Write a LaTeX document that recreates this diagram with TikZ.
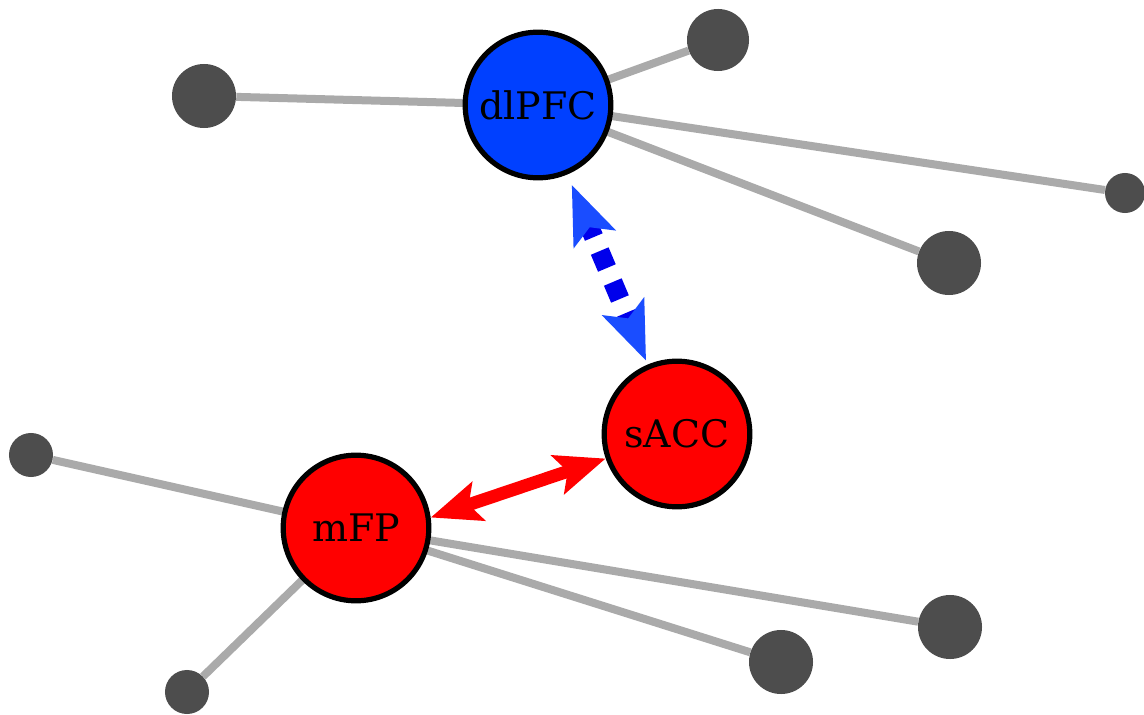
\documentclass[tikz,border=0pt]{standalone}
\usepackage{fontspec}
\setmainfont{DejaVu Serif}
\usepackage{tikz}
\usetikzlibrary{arrows.meta,backgrounds}

\definecolor{regionblue}{RGB}{0,64,255}
\definecolor{regionred}{RGB}{255,0,0}
\definecolor{tipblue}{RGB}{26,77,255}
\definecolor{dashblue}{RGB}{0,0,235}
\definecolor{satgray}{RGB}{77,77,77}
\definecolor{linkgray}{RGB}{170,170,170}

\begin{document}
\begin{tikzpicture}[x=0.025cm,y=-0.025cm,
  region/.style={circle,draw=black,line width=0.13cm,minimum size=3.64cm,inner sep=0pt,font=\fontsize{27}{32}\selectfont},
  sat/.style={circle,fill=satgray,inner sep=0pt,minimum size=#1},
  link/.style={draw=linkgray,line width=0.2cm}]
\useasboundingbox (0,0) rectangle (1144,715);
% main regions
\node[region,fill=regionblue] (dlPFC) at (538,105) {dlPFC};
\node[region,fill=regionred] (sACC) at (677,434) {sACC};
\node[region,fill=regionred] (mFP) at (356,528) {mFP};
% outer nodes
\node[sat=1.6cm] (d1) at (204,96) {};
\node[sat=1.55cm] (d2) at (718,40) {};
\node[sat=1.0cm] (d3) at (1125,193) {};
\node[sat=1.6cm] (d4) at (949,263) {};
\node[sat=1.1cm] (m1) at (31,455) {};
\node[sat=1.6cm] (m2) at (950,627) {};
\node[sat=1.6cm] (m3) at (781,662) {};
\node[sat=1.1cm] (m4) at (187,692) {};
\begin{scope}[on background layer]
\path[link]
(d1) edge (dlPFC.center)
(d2) edge (dlPFC.center)
(d3) edge (dlPFC.center)
(d4) edge (dlPFC.center)
(m1) edge (mFP.center)
(m2) edge (mFP.center)
(m3) edge (mFP.center)
(m4) edge (mFP.center);
\end{scope}
% connections
\draw[dashblue,line width=0.48cm,dash pattern=on 0.46cm off 0.38cm,dash phase=0.1cm,
  {Stealth[length=1.45cm,width=1.1cm,inset=0.3cm,color=tipblue]}-{Stealth[length=1.45cm,width=1.1cm,inset=0.3cm,color=tipblue]},
  shorten <=0.28cm, shorten >=0.1cm] (dlPFC) -- (sACC);
\draw[regionred,line width=0.32cm,
  {Stealth[length=1.25cm,width=1.0cm,inset=0.25cm]}-{Stealth[length=1.25cm,width=1.0cm,inset=0.25cm]}]
  (mFP.8) -- (sACC.199);
\end{tikzpicture}
\end{document}
